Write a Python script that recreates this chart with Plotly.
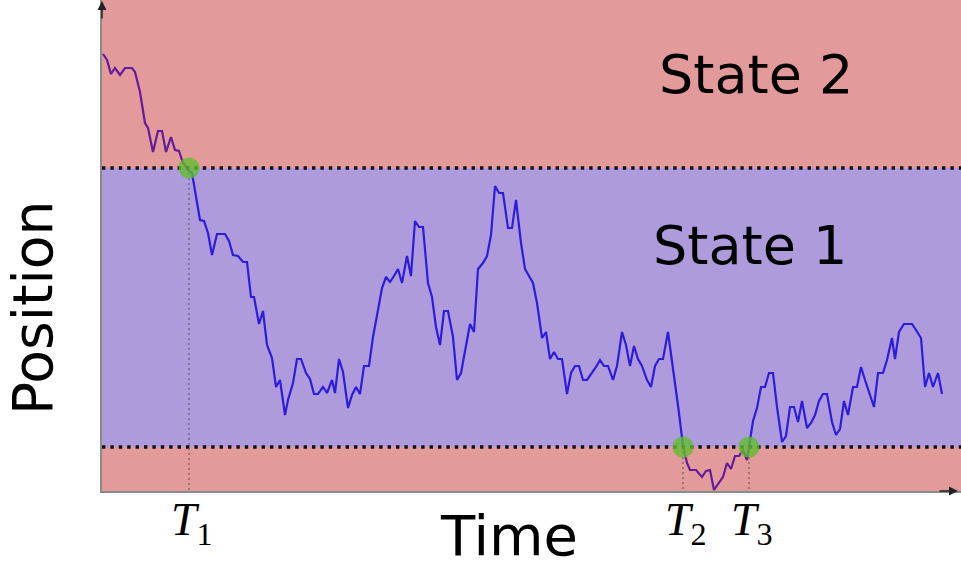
import plotly.graph_objects as go

# Random-walk trajectory (time, position)
walk = [
    (0.1, 43.7), (0.5, 43.1), (0.9, 41.7), (1.3, 42.3), (1.8, 41.6), (2.3, 42.3), (3.0, 42.3), (3.3, 41.9),
    (3.8, 39.9), (4.3, 36.8), (4.6, 36.3), (5.1, 33.9), (5.6, 36.0), (6.0, 36.0), (6.4, 33.9), (6.9, 35.4),
    (7.3, 34.1), (7.7, 34.0), (8.1, 32.8), (8.7, 32.0), (9.0, 31.8), (9.8, 27.1),
    (10.2, 27.0), (10.6, 25.8), (11.0, 23.6), (11.5, 25.7), (12.3, 25.7), (12.7, 25.0), (13.1, 23.6),
    (13.6, 23.5), (14.1, 22.9), (14.5, 22.9), (14.9, 19.4), (15.2, 19.4), (15.7, 16.7), (16.1, 18.0),
    (16.5, 14.6), (17.0, 13.3), (17.4, 10.4), (17.8, 11.1), (18.3, 7.6), (18.6, 9.1), (19.1, 10.8),
    (19.5, 13.2), (19.9, 13.2), (20.4, 11.8), (20.8, 11.2), (21.2, 9.7), (21.6, 9.7), (22.1, 10.4),
    (22.5, 9.8), (23.0, 11.1), (23.3, 9.8), (23.7, 13.2), (24.1, 11.9), (24.6, 8.3), (25.0, 9.6),
    (25.4, 10.4), (25.8, 9.7), (26.2, 12.5), (26.7, 12.5), (27.1, 15.4), (27.6, 18.1), (28.0, 20.3),
    (28.4, 21.4), (28.8, 20.9), (29.2, 21.5), (29.6, 22.2), (30.0, 20.8), (30.5, 23.5), (30.9, 21.5),
    (31.3, 27.0), (31.7, 26.4), (32.1, 26.4), (32.6, 20.8), (33.0, 19.4), (33.4, 16.4), (33.8, 14.6),
    (34.2, 18.0), (34.6, 18.0), (35.1, 15.4), (35.5, 11.1), (35.9, 11.8), (36.4, 14.4), (36.8, 16.7),
    (37.2, 15.9), (37.6, 22.2), (38.1, 22.8), (38.5, 23.5), (38.9, 25.6), (39.3, 30.5), (39.7, 29.8),
    (40.1, 29.8), (40.6, 26.3), (41.0, 26.3), (41.4, 29.1), (41.9, 24.8), (42.3, 22.2), (42.7, 21.5),
    (43.1, 20.8), (43.5, 18.8), (44.0, 15.3), (44.4, 15.9), (44.8, 13.2), (45.2, 13.9), (45.6, 13.2),
    (46.0, 13.2), (46.5, 9.7), (46.9, 11.8), (47.3, 12.5), (47.7, 12.5), (48.1, 11.1), (48.5, 11.1),
    (49.0, 11.8), (49.4, 12.4), (49.8, 13.1), (50.2, 12.5), (50.6, 12.5), (51.1, 11.1), (51.5, 12.5),
    (52.0, 15.9), (52.4, 14.6), (52.8, 12.5), (53.2, 14.5), (53.6, 13.2), (54.0, 12.5), (54.5, 11.1),
    (54.9, 10.4), (55.3, 12.5), (55.7, 13.2), (56.1, 13.2), (56.6, 15.9), (57.0, 13.1), (57.4, 10.4),
    (57.7, 7.8), (58.1, 4.5), (58.5, 2.8), (58.8, 2.1), (59.4, 2.1), (60.0, 1.4), (60.4, 2.0), (60.8, 2.1),
    (61.2, 0.1), (61.6, 0.7), (62.1, 1.4), (62.5, 2.8), (62.9, 2.2), (63.3, 3.5), (63.7, 3.5), (64.1, 4.1),
    (64.5, 3.1), (64.7, 4.4), (65.1, 7.0), (65.5, 8.3), (65.9, 10.4), (66.3, 10.4), (66.7, 11.8),
    (67.1, 11.8), (67.5, 8.4), (68.0, 4.9), (68.4, 5.5), (68.8, 8.4), (69.2, 8.4), (69.6, 6.9), (70.0, 9.0),
    (70.5, 6.3), (70.9, 6.8), (71.3, 7.6), (71.7, 9.0), (72.1, 9.7), (72.5, 9.7), (73.0, 6.9), (73.4, 5.6),
    (73.8, 6.2), (74.2, 9.0), (74.6, 7.6), (75.1, 10.4), (75.5, 10.4), (75.9, 12.4), (76.3, 11.1),
    (76.7, 9.8), (77.2, 8.4), (77.6, 11.8), (78.1, 11.8), (78.5, 13.1), (79.0, 15.3), (79.3, 13.2),
    (79.7, 15.9), (80.2, 16.7), (81.0, 16.7), (81.4, 16.1), (81.9, 15.3), (82.3, 10.4), (82.7, 11.8),
    (83.1, 10.4), (83.6, 11.8), (84.0, 9.7),
]
time = [p[0] for p in walk]
position = [p[1] for p in walk]

# Axis extents and state boundaries
t_max = 85.9
pos_max = 49.1
upper_threshold = 32.3
lower_threshold = 4.4

# Crossing events
crossing_times = [8.7, 58.1, 64.7]
crossing_levels = [32.3, 4.4, 4.4]
crossing_labels = ["<i>T</i><sub>1</sub>", "<i>T</i><sub>2</sub>", "<i>T</i><sub>3</sub>"]

state_labels = ["State 2", "State 1"]

RED = "rgba(199,53,53,0.5)"
PURPLE = "rgba(91,55,185,0.5)"

fig = go.Figure()

# trajectory (drawn beneath translucent bands)
fig.add_trace(go.Scatter(x=time, y=position, mode="lines",
                         line=dict(color="#0000ff", width=2.2), hoverinfo="skip"))

# bands
def band(y0, y1, color):
    fig.add_trace(go.Scatter(x=[0, t_max, t_max, 0, 0], y=[y0, y0, y1, y1, y0],
                             mode="lines", fill="toself", fillcolor=color,
                             line=dict(width=0), hoverinfo="skip"))

band(upper_threshold, pos_max, RED)
band(lower_threshold, upper_threshold, PURPLE)
band(0, lower_threshold, RED)

# threshold dotted lines
for thr in [upper_threshold, lower_threshold]:
    fig.add_trace(go.Scatter(x=[0, t_max], y=[thr, thr], mode="lines",
                             line=dict(color="#111111", width=3.4, dash="3.4px,5px"),
                             hoverinfo="skip"))

# vertical dotted drop lines
for t, lvl in zip(crossing_times, crossing_levels):
    fig.add_trace(go.Scatter(x=[t, t], y=[lvl, 0], mode="lines",
                             line=dict(color="#555555", width=1, dash="2px,3px"),
                             hoverinfo="skip"))

# crossing markers
fig.add_trace(go.Scatter(x=crossing_times, y=crossing_levels, mode="markers",
                         marker=dict(size=21, color="rgba(95,190,45,0.78)", line=dict(width=0)),
                         hoverinfo="skip", cliponaxis=False))

annotations = []
# T labels
for t, lab in zip(crossing_times, crossing_labels):
    annotations.append(dict(x=t, y=0, xref="x", yref="y", text=lab, showarrow=False,
                            yanchor="top", xanchor="center", xshift=3, yshift=-1,
                            font=dict(family="Liberation Serif", size=46, color="black")))
# state labels
annotations.append(dict(x=0.761, y=0.849, xref="paper", yref="paper", text=state_labels[0],
                        xanchor="center", yanchor="middle",
                        showarrow=False, font=dict(family="DejaVu Sans", size=54, color="black")))
annotations.append(dict(x=0.754, y=0.501, xref="paper", yref="paper", text=state_labels[1],
                        xanchor="center", yanchor="middle",
                        showarrow=False, font=dict(family="DejaVu Sans", size=54, color="black")))
# axis titles
annotations.append(dict(x=-0.0803, y=0.373, xref="paper", yref="paper", text="Position",
                        xanchor="center", yanchor="middle", textangle=-90, showarrow=False,
                        font=dict(family="DejaVu Sans", size=55, color="black")))
annotations.append(dict(x=0.474, y=-0.09, xref="paper", yref="paper", text="Time",
                        xanchor="center", yanchor="middle",
                        showarrow=False, font=dict(family="DejaVu Sans", size=56, color="black")))
# axis arrows
annotations.append(dict(x=0, y=1, xref="paper", yref="paper", ax=0, ay=20, text="",
                        showarrow=True, arrowhead=2, arrowsize=1.2, arrowwidth=1.5,
                        arrowcolor="#222222"))
annotations.append(dict(x=0.9965, y=0, xref="paper", yref="paper", ax=-20, ay=0, text="",
                        showarrow=True, arrowhead=2, arrowsize=1.2, arrowwidth=1.5,
                        arrowcolor="#222222"))

fig.update_layout(
    width=961, height=567,
    margin=dict(l=102, r=0, t=0, b=76),
    paper_bgcolor="white", plot_bgcolor="white",
    showlegend=False,
    annotations=annotations,
    xaxis=dict(range=[0, t_max], showgrid=False, zeroline=False, showticklabels=False,
               ticks="", showline=True, linecolor="#8a8a8a", linewidth=2),
    yaxis=dict(range=[0, pos_max], showgrid=False, zeroline=False, showticklabels=False,
               ticks="", showline=True, linecolor="#8a8a8a", linewidth=2),
)

fig.write_html("out.html",
               config={"displayModeBar": False},
               post_script="document.body.style.margin='0';document.body.style.overflow='hidden';")
